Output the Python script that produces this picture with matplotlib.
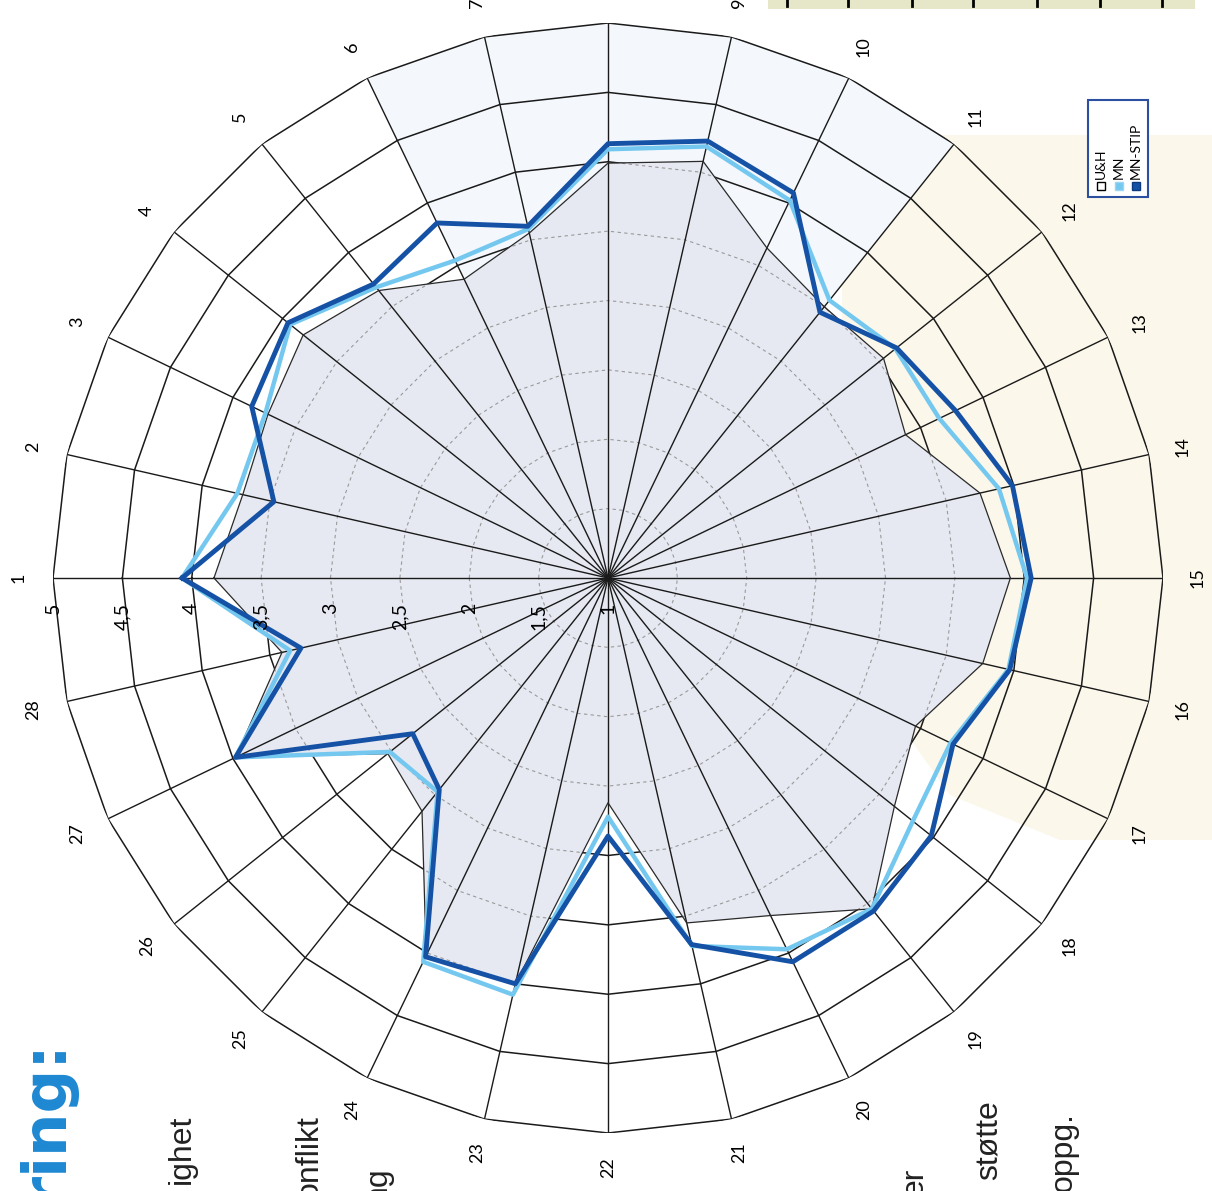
import numpy as np
import matplotlib.pyplot as plt
from matplotlib.patches import Rectangle, Polygon
from matplotlib.transforms import offset_copy

# spoke labels (the chart is printed rotated 90 degrees on the page)
spokes = [str(i) for i in range(1, 29)]

# values (scale 1 - 5)
uh = [3.84, 3.70, 3.72, 3.81, 3.65, 3.39, 3.55, 3.99, 4.08, 3.64,
      3.50, 3.54, 3.38, 3.75, 3.90, 3.77, 3.46, 3.64, 4.05, 3.70,
      3.55, 2.62, 4.00, 4.02, 3.15, 3.03, 3.98, 3.41]
mn = [4.07, 3.74, 3.74, 3.93, 3.68, 3.54, 3.58, 4.09, 4.19, 4.02,
      3.56, 3.65, 3.65, 3.89, 4.02, 3.96, 3.74, 3.81, 4.05, 3.97,
      3.72, 2.72, 4.08, 4.07, 2.97, 3.01, 3.98, 3.35]
mn_stip = [4.07, 3.47, 3.85, 3.95, 3.71, 3.84, 3.60, 4.13, 4.23, 4.08,
           3.45, 3.66, 3.78, 3.99, 4.05, 3.97, 3.76, 3.98, 4.07, 4.07,
           3.71, 2.86, 4.00, 4.03, 2.95, 2.80, 3.98, 3.27]

r_ticks = [1, 1.5, 2, 2.5, 3, 3.5, 4, 4.5, 5]
r_tick_labels = ['1', '1,5', '2', '2,5', '3', '3,5', '4', '4,5', '5']

series_names = ['U&H', 'MN', 'MN-STIP']
c_uh = '#e6e9f2'
c_mn = '#74c8ef'
c_stip = '#1552a6'

W, H = 1212, 1191
fig = plt.figure(figsize=(W / 100, H / 100), dpi=100)

# page background (pixel coordinates, y downwards)
bg = fig.add_axes([0, 0, 1, 1])
bg.set_xlim(0, W)
bg.set_ylim(H, 0)
bg.axis('off')

bg.add_patch(Polygon([(842, 135), (1212, 135), (1212, 840), (1060, 840),
                      (950, 795), (900, 725), (842, 700)],
                     closed=True, facecolor='#fbf7ea', edgecolor='none'))
bg.add_patch(Rectangle((768, 0), 427, 9, facecolor='#e6e6c8', edgecolor='none'))
for x in [787, 848, 912, 973, 1037, 1100, 1162]:
    bg.plot([x, x], [0, 6], color='k', lw=2)

# fragments of slide text behind the chart (cut off by the page edge)
bg.text(62, 1038, 'ring:', rotation=90, rotation_mode='anchor', ha='right',
        va='baseline', fontsize=44, fontweight='bold', color='#1e88d2',
        family='DejaVu Sans')
slide_txt = [('ighet', 190, 1115), ('onflikt', 318, 1115), ('ng', 386, 1166),
             ('er', 923, 1168), ('støtte', 998, 1100), ('oppg.', 1072, 1112)]
for s, x, y in slide_txt:
    bg.text(x, y, s, rotation=90, rotation_mode='anchor', ha='right',
            va='baseline', fontsize=23, color='#222222', family='Liberation Sans')

# legend (rotated with the page)
bg.add_patch(Rectangle((1088, 100), 60, 97, facecolor='white',
                       edgecolor='#2c4fa0', lw=1.5, zorder=5))
leg_style = [('white', 'k'), (c_mn, '#9ad6f3'), (c_stip, '#0d3a80')]
for i, (name, (fc, ec)) in enumerate(zip(series_names, leg_style)):
    x = 1101 + i * 17.5
    bg.add_patch(Rectangle((x - 4, 182), 8, 8, facecolor=fc, edgecolor=ec,
                           lw=1, zorder=6))
    bg.text(x, 179, name, rotation=90, rotation_mode='anchor', ha='left',
            va='center', fontsize=10, family='Lato', zorder=6)

# radar chart
cx, cy, R = 608, 578, 555
ax = fig.add_axes([(cx - R) / W, (H - cy - R) / H, 2 * R / W, 2 * R / H],
                  projection='polar')
ax.set_theta_offset(np.pi)
ax.set_theta_direction(-1)
ax.set_ylim(1, 5)
ax.set_axis_off()

n = len(spokes)
theta = np.arange(n) * 2 * np.pi / n
tc = np.append(theta, theta[0])


def closed(v):
    return np.append(v, v[0])


# faint tint at the top of the plot area
sec = list(range(5, 11))
ax.fill(np.r_[theta[sec], 0], np.r_[[5] * len(sec), 1], color='#f4f8fc',
        lw=0, zorder=0.5)

for v in r_ticks[1:]:
    ax.plot(tc, [v] * (n + 1), color='#1a1a1a', lw=1.1, zorder=1)

patch = ax.fill(tc, closed(uh), color=c_uh, lw=0, zorder=2)[0]
for v in r_ticks[1:]:
    ln, = ax.plot(tc, [v] * (n + 1), color='#9a9a9a', lw=0.8,
                  ls=(0, (3, 3)), zorder=2.5)
    ln.set_clip_path(patch)

for t in theta:
    ax.plot([t, t], [1, 5], color='#1a1a1a', lw=1.0, zorder=3)

ax.plot(tc, closed(uh), color='#2a2a2a', lw=0.9, zorder=4)
ax.plot(tc, closed(mn), color=c_mn, lw=3.2, zorder=5)
ax.plot(tc, closed(mn_stip), color=c_stip, lw=3.5, zorder=6)

for t, lab in zip(theta, spokes):
    ax.text(t, 5.25, lab, rotation=90, ha='center', va='center', fontsize=13,
            family='Lato', clip_on=False)

tr = offset_copy(ax.transData, fig=fig, x=0, y=-25, units='dots')
for v, lab in zip(r_ticks, r_tick_labels):
    ax.text(0, v, lab, transform=tr, rotation=90, rotation_mode='anchor',
            ha='right', va='center', fontsize=14, family='Lato', zorder=7)

fig.savefig('out.png', dpi=100)
